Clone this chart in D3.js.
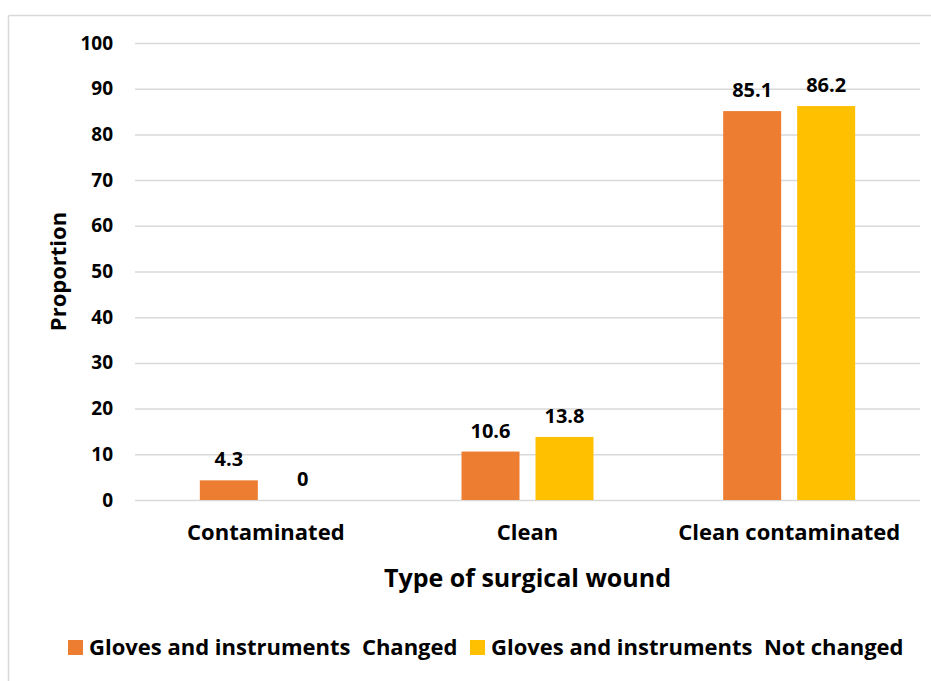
<!DOCTYPE html>
<html>
<head>
<meta charset="utf-8">
<script src="https://cdn.jsdelivr.net/npm/d3@7"></script>
<style>
  html, body { margin: 0; padding: 0; background: #fff; }
  svg { display: block; font-family: "Open Sans", "Liberation Sans", sans-serif; font-weight: bold; }
</style>
</head>
<body>
<svg id="chart" width="931" height="681"></svg>
<script>
// Wound categories and the share of each under the two glove/instrument practices
const categories = ["Contaminated", "Clean", "Clean contaminated"];
const seriesNames = ["Gloves and instruments  Changed", "Gloves and instruments  Not changed"];
const changed = [4.3, 10.6, 85.1];
const notChanged = [0, 13.8, 86.2];
const yTicks = [0, 10, 20, 30, 40, 50, 60, 70, 80, 90, 100];
const colors = ["#ED7D31", "#FFC000"];

const FONT = '"Open Sans", sans-serif';
const svg = d3.select("#chart");
const W = 931, H = 681;

// outer chart frame (top and left edges visible)
svg.append("line").attr("x1", 8.5).attr("x2", W).attr("y1", 15.5).attr("y2", 15.5)
  .attr("stroke", "#d9d9d9").attr("stroke-width", 1.5);
svg.append("line").attr("x1", 8.5).attr("x2", 8.5).attr("y1", 15.5).attr("y2", H)
  .attr("stroke", "#d9d9d9").attr("stroke-width", 1.5);

const plot = { left: 135, right: 920, top: 43, bottom: 500 };

const x = d3.scaleBand().domain(categories).range([plot.left, plot.right]);
const y = d3.scaleLinear().domain([0, 100]).range([plot.bottom, plot.top]);

const barW = 58, gap = 16;
const sub = d3.scaleOrdinal().domain([0, 1]).range([-(gap / 2 + barW), gap / 2]);

// horizontal gridlines and value ticks
const yAxis = d3.axisLeft(y).tickValues(yTicks).tickSize(-(plot.right - plot.left)).tickPadding(22);
const gy = svg.append("g").attr("transform", `translate(${plot.left},0)`).call(yAxis);
gy.select(".domain").remove();
gy.selectAll(".tick line").attr("stroke", "#d9d9d9").attr("stroke-width", 1.5);
gy.selectAll(".tick text").attr("font-size", 19).attr("fill", "#000")
  .attr("font-family", FONT).attr("font-weight", "bold");

// category labels
const xAxis = d3.axisBottom(x).tickSize(0).tickPadding(24);
const gx = svg.append("g").attr("transform", `translate(0,${plot.bottom})`).call(xAxis);
gx.select(".domain").remove();
gx.selectAll(".tick text").attr("font-size", 22).attr("fill", "#000")
  .attr("font-family", FONT).attr("font-weight", "bold");

// bars and value labels
const series = [changed, notChanged];
series.forEach((vals, si) => {
  const g = svg.append("g");
  const data = categories.map((c, i) => ({ c, v: vals[i] }));
  g.selectAll("rect").data(data).join("rect")
    .attr("x", d => x(d.c) + x.bandwidth() / 2 + sub(si))
    .attr("width", barW)
    .attr("y", d => y(d.v))
    .attr("height", d => y(0) - y(d.v))
    .attr("fill", colors[si]);
  g.selectAll("text").data(data).join("text")
    .attr("x", d => x(d.c) + x.bandwidth() / 2 + sub(si) + barW / 2)
    .attr("y", d => y(d.v) - 14)
    .attr("text-anchor", "middle")
    .attr("font-size", 20)
    .attr("fill", "#000")
    .text(d => d.v);
});

// axis titles
svg.append("text").attr("x", (plot.left + plot.right) / 2).attr("y", 587)
  .attr("text-anchor", "middle").attr("font-size", 25).attr("fill", "#000")
  .text("Type of surgical wound");
svg.append("text").attr("transform", `translate(66,${(plot.top + plot.bottom) / 2}) rotate(-90)`)
  .attr("text-anchor", "middle").attr("font-size", 22).attr("fill", "#000")
  .text("Proportion");

// legend
const legend = svg.append("g");
const legendX = [68, 470];
seriesNames.forEach((name, i) => {
  legend.append("rect").attr("x", legendX[i]).attr("y", 640).attr("width", 15).attr("height", 15)
    .attr("fill", colors[i]);
  legend.append("text").attr("x", legendX[i] + 21).attr("y", 655)
    .attr("font-size", 22).attr("fill", "#000")
    .style("white-space", "pre")
    .text(name);
});
</script>
</body>
</html>
